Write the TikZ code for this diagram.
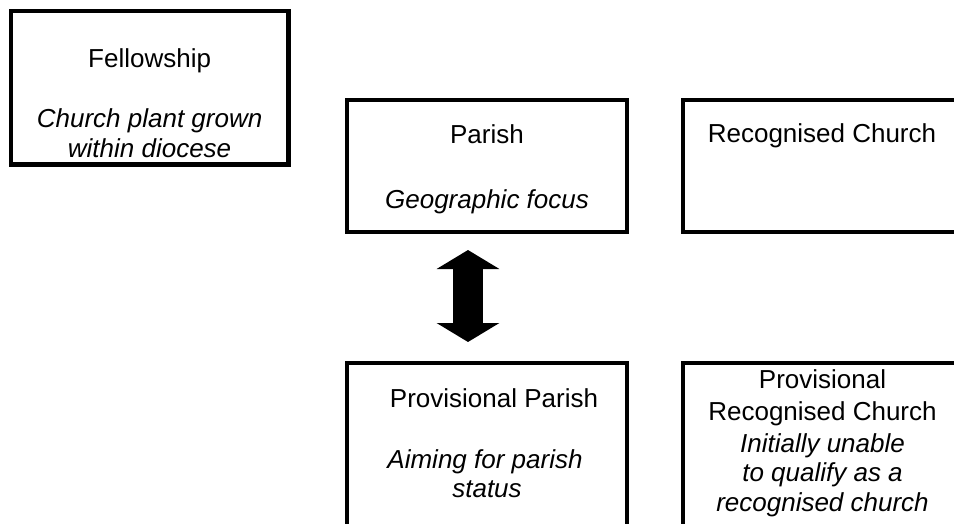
\documentclass[tikz,border=0pt]{standalone}
\usepackage{fontspec}
\setmainfont{Liberation Sans}
\usetikzlibrary{arrows.meta}
\begin{document}
\begin{tikzpicture}[x=1pt,y=-1pt,
  box/.style={draw=black, line width=4.5pt, rectangle, inner sep=0pt},
  txt/.style={anchor=base, inner sep=0pt, font=\fontsize{26}{30}\selectfont},
  itxt/.style={anchor=base, inner sep=0pt, font=\fontsize{26}{30}\selectfont\itshape},
  bigarrow/.style={line width=30pt, {Triangle[width=62pt,length=19pt]}-{Triangle[width=62pt,length=19pt]}}]
\useasboundingbox (0,0) rectangle (954,523);
\clip (0,0) rectangle (954,523);
% boxes
\node[box, minimum width=277.7pt, minimum height=153.5pt] (fel) at (149.6,87.75) {};
\node[box, minimum width=280pt, minimum height=132pt] (par) at (487,166) {};
\node[box, minimum width=280pt, minimum height=132pt] (rec) at (823,166) {};
\node[box, minimum width=280pt, minimum height=177pt] (ppar) at (487,451.5) {};
\node[box, minimum width=280pt, minimum height=177pt] (prec) at (823,451.5) {};
% texts
\node[txt]  (t1) at (149.6,67) {Fellowship};
\node[itxt] (t2) at (149.6,127) {Church plant grown};
\node[itxt] (t3) at (149.6,157) {within diocese};
\node[txt]  (t4) at (487,143) {Parish};
\node[itxt] (t5) at (487,208) {Geographic focus};
\node[txt]  (t6) at (822,142) {Recognised Church};
\node[txt]  (t7) at (494,407) {Provisional Parish};
\node[itxt] (t8) at (485,468) {Aiming for parish};
\node[itxt] (t9) at (487,497) {status};
\node[txt]  (t10) at (822.5,388) {Provisional};
\node[txt]  (t11) at (822.5,420) {Recognised Church};
\node[itxt] (t12) at (822.5,452) {Initially unable};
\node[itxt] (t13) at (822.5,481) {to qualify as a};
\node[itxt] (t14) at (822.5,511) {recognised church};
% double arrow
\coordinate (a1) at (468,250);
\coordinate (a2) at (468,342);
\draw[bigarrow] (a1) -- (a2);
\end{tikzpicture}
\end{document}
